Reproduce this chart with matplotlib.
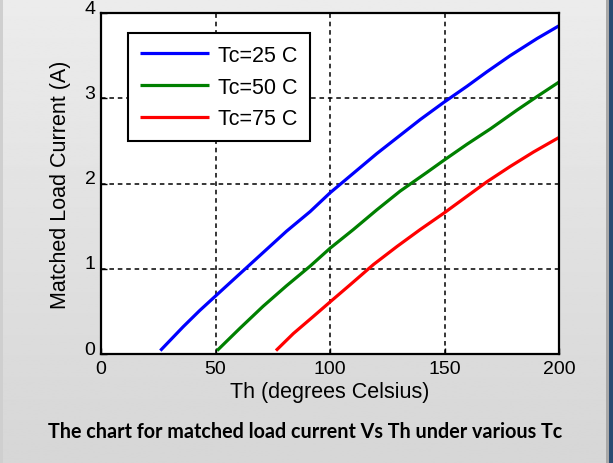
import numpy as np
import matplotlib
matplotlib.use("Agg")
import matplotlib.pyplot as plt
from matplotlib.transforms import ScaledTranslation

# ---------------------------
# Data
# ---------------------------
th_25 = [25.9, 35.9, 43.1, 50, 60.6, 70.8, 81, 91.3, 100, 110.2, 120.4,
         129.9, 139.4, 149.6, 159.8, 168.5, 178.7, 190.4, 200]
cur_25 = [0.04, 0.32, 0.51, 0.68, 0.94, 1.19, 1.44, 1.67, 1.89, 2.12, 2.35,
          2.55, 2.75, 2.95, 3.14, 3.31, 3.50, 3.70, 3.85]

th_50 = [50.7, 60.6, 70.8, 81, 91.3, 100, 110.2, 120.4, 130.6, 142.3,
         149.6, 159.8, 170, 181.6, 190.4, 200]
cur_50 = [0.04, 0.30, 0.56, 0.80, 1.03, 1.24, 1.46, 1.69, 1.91, 2.13,
          2.27, 2.46, 2.64, 2.86, 3.02, 3.19]

th_75 = [76.4, 84, 92.7, 100, 108.7, 119, 129.2, 139.4, 149.6, 159.8,
         168.5, 178.7, 188.9, 200]
cur_75 = [0.04, 0.24, 0.44, 0.61, 0.81, 1.05, 1.26, 1.46, 1.65, 1.85,
          2.02, 2.20, 2.37, 2.54]

series_labels = ["Tc=25 C", "Tc=50 C", "Tc=75 C"]
series_colors = ["#0000ff", "#008000", "#ff0000"]

x_ticks = [0, 50, 100, 150, 200]
y_ticks = [0, 1, 2, 3, 4]

caption = "The chart for matched load current Vs Th under various Tc"

plt.rcParams["font.family"] = ["Liberation Sans", "DejaVu Sans"]

fig = plt.figure(figsize=(6.13, 4.64), dpi=100)

# ---------------------------
# Gray gradient panel behind everything
# ---------------------------
bg = fig.add_axes([0, 0, 1, 1], zorder=-10)
grad = np.linspace(0.925, 0.84, 256).reshape(-1, 1)
bg.imshow(grad, aspect="auto", cmap="gray", vmin=0, vmax=1,
          extent=[0, 1, 0, 1], origin="upper")
bg.axvspan(0, 3 / 613, color="#cfcfcf", lw=0)
bg.axvspan(606 / 613, 608.5 / 613, color="#a8a8a8", lw=0)
bg.axvspan(608.5 / 613, 1, color="#2c4c72", lw=0)
bg.set_xlim(0, 1)
bg.set_ylim(0, 1)
bg.axis("off")

# ---------------------------
# Main axes
# ---------------------------
ax = fig.add_axes([101 / 613, 1 - 355 / 464, 458 / 613, 341 / 464])
ax.set_facecolor("white")

for th, cur, lab, col in zip([th_25, th_50, th_75], [cur_25, cur_50, cur_75],
                             series_labels, series_colors):
    ax.plot(th, cur, color=col, lw=2.3, label=lab, solid_capstyle="butt")

ax.set_xlim(0, 200)
ax.set_ylim(0, 4)
ax.set_xticks(x_ticks)
ax.set_yticks(y_ticks)
ax.tick_params(direction="in", length=4, width=1, labelsize=14, pad=4)
ax.grid(True, color="black", linestyle=(0, (3, 2.5)), linewidth=1.1)

for sp in ax.spines.values():
    sp.set_linewidth(1.6)

# MATLAB-style y labels sit a little above their ticks
offset = ScaledTranslation(0, 5 / 72, fig.dpi_scale_trans)
for lbl in ax.get_yticklabels():
    lbl.set_transform(lbl.get_transform() + offset)

ax.set_xlabel("Th (degrees Celsius)", fontsize=15.5, labelpad=3)
ax.set_ylabel("Matched Load Current (A)", fontsize=15.5, labelpad=10)

leg = ax.legend(loc="upper left", bbox_to_anchor=(0.059, 0.941),
                borderaxespad=0, fontsize=15.5, fancybox=False,
                edgecolor="black", framealpha=1, handlelength=3.2,
                handletextpad=0.45, labelspacing=0.5, borderpad=0.55)
leg.get_frame().set_linewidth(1.5)

# ---------------------------
# Caption
# ---------------------------
fig.text(305.5 / 613, 1 - 432 / 464, caption, fontsize=14.2,
         fontweight="bold", family=["Lato", "DejaVu Sans"],
         ha="center", va="center")

fig.savefig("out.png", dpi=100)
